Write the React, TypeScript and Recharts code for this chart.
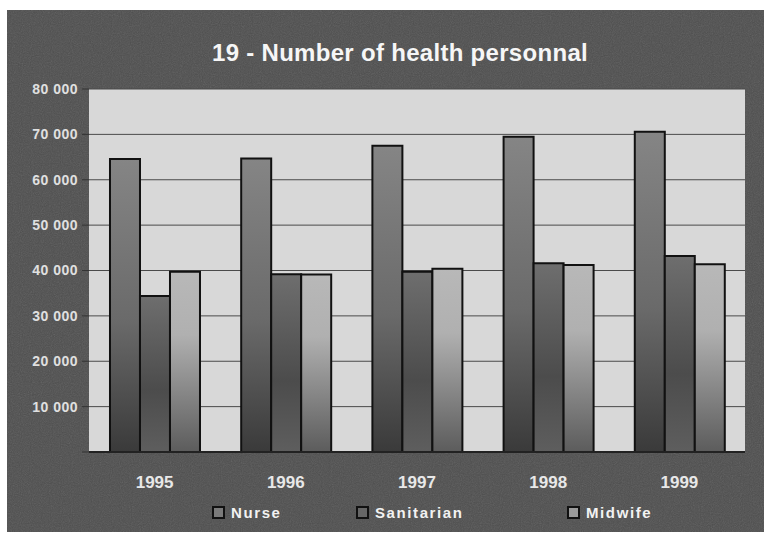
import React from 'react';
import { BarChart, Bar, XAxis, YAxis, CartesianGrid } from 'recharts';

const years = ['1995', '1996', '1997', '1998', '1999'];
const nurse = [64600, 64700, 67500, 69500, 70600];
const sanitarian = [34400, 39200, 39700, 41600, 43200];
const midwife = [39700, 39100, 40400, 41200, 41400];
const yTicks = [0, 10000, 20000, 30000, 40000, 50000, 60000, 70000, 80000];
const seriesNames = ['Nurse', 'Sanitarian', 'Midwife'];
const title = '19 - Number of health personnal';

const data = years.map((y, i) => ({
  year: y,
  Nurse: nurse[i],
  Sanitarian: sanitarian[i],
  Midwife: midwife[i],
}));

const swatch = ['#7a7a7a', '#666666', '#9a9a9a'];
const fmt = (v: number) => (v === 0 ? '' : String(v).replace(/\B(?=(\d{3})+(?!\d))/g, ' '));
const FONT = '"Liberation Sans", Arial, sans-serif';

export default function App() {
  return (
    <div style={{ position: 'absolute', left: 0, top: 0, width: 764, height: 535, background: '#ffffff', overflow: 'hidden' }}>
      <div style={{ position: 'absolute', left: 7, top: 10, width: 757, height: 522, background: '#4e4e4e' }}>
        <svg width={757} height={522} style={{ position: 'absolute', left: 0, top: 0 }}>
          <filter id="noise">
            <feTurbulence type="fractalNoise" baseFrequency="0.9" numOctaves={2} seed={3} />
            <feColorMatrix type="saturate" values="0" />
            <feComponentTransfer>
              <feFuncA type="linear" slope="0.18" />
            </feComponentTransfer>
          </filter>
          <rect width={757} height={522} filter="url(#noise)" />
        </svg>
        <div style={{ position: 'absolute', left: 0, top: 29, width: 786, textAlign: 'center', color: '#f6f6f6', fontFamily: FONT, fontWeight: 'bold', fontSize: 24, letterSpacing: 0.3 }}>
          {title}
        </div>
        <div style={{ position: 'absolute', left: 0, top: 0 }}>
          <BarChart width={757} height={522} data={data} margin={{ top: 79, right: 19, left: 10, bottom: 50 }} barCategoryGap="16%" barGap={0}>
            <defs>
              <linearGradient id="gNurse" x1="0" y1="0" x2="0" y2="1">
                <stop offset="0%" stopColor="#858585" />
                <stop offset="55%" stopColor="#6a6a6a" />
                <stop offset="100%" stopColor="#3a3a3a" />
              </linearGradient>
              <linearGradient id="gSan" x1="0" y1="0" x2="0" y2="1">
                <stop offset="0%" stopColor="#6e6e6e" />
                <stop offset="60%" stopColor="#4c4c4c" />
                <stop offset="100%" stopColor="#5e5e5e" />
              </linearGradient>
              <linearGradient id="gMid" x1="0" y1="0" x2="0" y2="1">
                <stop offset="0%" stopColor="#b8b8b8" />
                <stop offset="35%" stopColor="#b0b0b0" />
                <stop offset="100%" stopColor="#5c5c5c" />
              </linearGradient>
            </defs>
            <CartesianGrid vertical={false} stroke="#4a4a4a" fill="#d8d8d8" />
            <XAxis
              dataKey="year"
              height={30}
              axisLine={{ stroke: '#222', strokeWidth: 2 }}
              tickLine={false}
              tickMargin={18}
              tick={{ fill: '#e8e8e8', fontSize: 17, fontWeight: 'bold', fontFamily: FONT }}
            />
            <YAxis
              width={72}
              domain={[0, 80000]}
              ticks={yTicks}
              interval={0}
              tickFormatter={fmt}
              axisLine={false}
              tickSize={7}
              tickMargin={4}
              tickLine={{ stroke: '#333' }}
              tick={{ fill: '#e0e0e0', fontSize: 14, fontWeight: 'bold', fontFamily: FONT, letterSpacing: 0.5 }}
            />
            <Bar dataKey="Nurse" fill="url(#gNurse)" stroke="#111" strokeWidth={2} isAnimationActive={false} />
            <Bar dataKey="Sanitarian" fill="url(#gSan)" stroke="#111" strokeWidth={2} isAnimationActive={false} />
            <Bar dataKey="Midwife" fill="url(#gMid)" stroke="#111" strokeWidth={2} isAnimationActive={false} />
          </BarChart>
        </div>
        {seriesNames.map((name, i) => {
          const lefts = [205, 349, 560];
          return (
            <div key={name} style={{ position: 'absolute', left: lefts[i], top: 494, display: 'flex', alignItems: 'center' }}>
              <div style={{ width: 9, height: 9, background: swatch[i], border: '2px solid #111', marginRight: 6 }} />
              <span style={{ color: '#f2f2f2', fontFamily: FONT, fontWeight: 'bold', fontSize: 15, letterSpacing: 1.6 }}>{name}</span>
            </div>
          );
        })}
      </div>
    </div>
  );
}
